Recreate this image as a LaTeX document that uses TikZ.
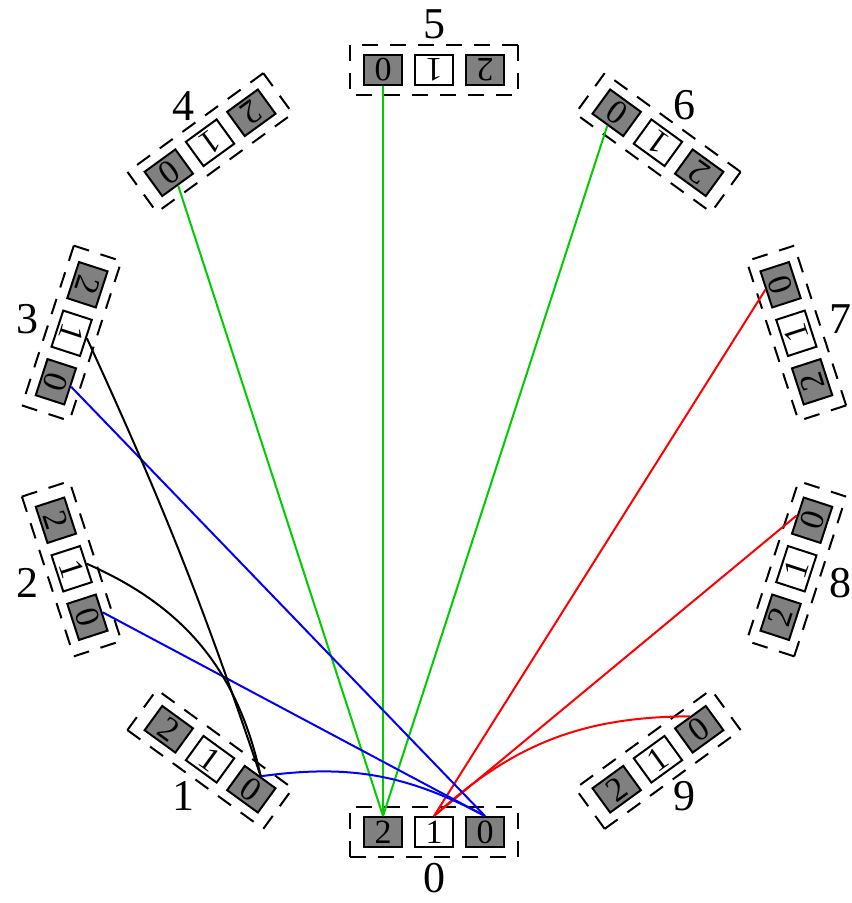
\documentclass[tikz,border=0pt]{standalone}
\usepackage{fontspec}
\setmainfont{Liberation Serif}
\definecolor{cellgray}{RGB}{128,128,128}
\definecolor{linkgreen}{RGB}{0,204,0}
\definecolor{linkred}{RGB}{255,0,0}
\definecolor{linkblue}{RGB}{0,0,255}
\begin{document}
\begin{tikzpicture}[x=0.5pt,y=0.5pt,
  cell/.style={draw, line width=1pt, minimum width=19pt, minimum height=15pt,
    inner sep=0pt, font=\fontsize{17}{17}\selectfont},
  darkcell/.style={cell, fill=cellgray},
  lightcell/.style={cell, fill=white},
  frame/.style={draw, line width=1pt, dash pattern=on 8pt off 6pt},
  grouplabel/.style={inner sep=0pt, font=\fontsize{22}{22}\selectfont},
  link/.style={line width=1pt}]
\useasboundingbox (0,0) rectangle (851,-903);

% ten groups of three cells on a ring, each turned to face the centre
\foreach \k in {0,...,9}{
  \begin{scope}[shift={(434,-451)}, shift={(-90-36*\k:381)}, rotate=-36*\k, transform shape]
    \draw[frame] (-84,-25) rectangle (84,25);
    \node[darkcell]  (g\k-2) at (-51,0) {2};
    \node[lightcell] (g\k-1) at (0,0)   {1};
    \node[darkcell]  (g\k-0) at (51,0)  {0};
  \end{scope}
  \begin{scope}[shift={(434,-451)}]
    \node[grouplabel] (lab\k) at (-90-36*\k:427) {\k};
  \end{scope}
}

% links from group 0
\draw[link, linkgreen] (g0-2.north) -- (g4-0.north);
\draw[link, linkgreen] (g0-2.north) -- (g5-0.north);
\draw[link, linkgreen] (g0-2.north) -- (g6-0.north);

\draw[link, linkred] (g0-1.north) -- (g7-0.north);
\draw[link, linkred] (g0-1.north) -- (g8-0.north);
\draw[link, linkred] (g0-1.north) to[bend left=21] (g9-0.north);

\draw[link, linkblue] (g0-0.north) -- (g3-0.north);
\draw[link, linkblue] (g0-0.north) -- (g2-0.north);
\draw[link, linkblue] (g0-0.north) to[bend right=18] (g1-0.north);

% links from group 1
\draw[link, black] (g1-0.north) to[bend right=27] (g2-1.north);
\draw[link, black] (g1-0.north) to[bend right=3] (g3-1.north);
\end{tikzpicture}
\end{document}
